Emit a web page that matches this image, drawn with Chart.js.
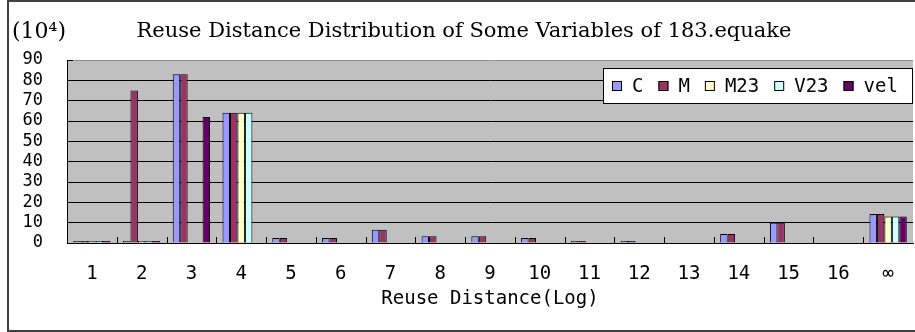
<!DOCTYPE html>
<html>
<head>
<meta charset="utf-8">
<script src="https://cdn.jsdelivr.net/npm/chart.js@4.4.0/dist/chart.umd.min.js"></script>
<style>
  html, body { margin: 0; padding: 0; background: #fff; }
</style>
</head>
<body>
<canvas id="graficoReuse" width="915" height="332"></canvas>
<script>
const categories = ['1', '2', '3', '4', '5', '6', '7', '8', '9', '10', '11', '12', '13', '14', '15', '16', '∞'];

const seriesC   = [1, 1, 83, 64, 2.5, 2.5, 6.5, 3.3, 3.3, 2.5, 1, 1, 0, 4.4, 10, 0, 14.3];
const seriesM   = [1, 75, 83, 64, 2.5, 2.5, 6.5, 3.3, 3.3, 2.5, 1, 1, 0, 4.4, 10, 0, 14.3];
const seriesM23 = [1, 1, 0, 64, 0, 0, 0, 0, 0, 0, 0, 0, 0, 0, 0, 0, 13];
const seriesV23 = [1, 1, 0, 64, 0, 0, 0, 0, 0, 0, 0, 0, 0, 0, 0, 0, 13];
const seriesVel = [1, 1, 62, 0, 0, 0, 0, 0, 0, 0, 0, 0, 0, 0, 0, 0, 13];

const seriesNames = ['C', 'M', 'M23', 'V23', 'vel'];
const seriesColors = ['#9999ff', '#993366', '#ffffcc', '#ccffff', '#660066'];

const yTicks = [0, 10, 20, 30, 40, 50, 60, 70, 80, 90];

const monoFont = '"DejaVu Sans Mono", monospace';
const serifFont = '"DejaVu Serif", serif';

// white page, grey plot, outer frame and the (10^4) unit
const framePlugin = {
    id: 'frame',
    beforeDraw(chart) {
        const c = chart.ctx;
        const a = chart.chartArea;
        c.save();
        c.fillStyle = '#ffffff';
        c.fillRect(0, 0, chart.width, chart.height);
        c.fillStyle = '#c0c0c0';
        c.fillRect(a.left, a.top, a.right - a.left, a.bottom - a.top);
        c.restore();
    },
    afterDraw(chart) {
        const c = chart.ctx;
        const a = chart.chartArea;
        c.save();
        c.strokeStyle = '#404040';
        c.lineWidth = 2;
        c.strokeRect(8, 1, 920, 330);
        // little corner tick at the top of the value axis
        c.strokeStyle = '#000';
        c.lineWidth = 1;
        c.beginPath();
        c.moveTo(a.left, a.top + 0.5);
        c.lineTo(a.left + 6, a.top + 0.5);
        c.stroke();
        c.fillStyle = '#000';
        c.font = '22px ' + serifFont;
        c.textBaseline = 'alphabetic';
        c.fillText('(10⁴)', 12, 38);
        c.restore();
    }
};

// short inward marks at the category boundaries
const boundaryTicks = {
    id: 'boundaryTicks',
    beforeDatasetsDraw(chart) {
        const x = chart.scales.x;
        const a = chart.chartArea;
        const step = (x.right - x.left) / categories.length;
        const c = chart.ctx;
        c.save();
        c.strokeStyle = '#000';
        c.lineWidth = 1;
        c.beginPath();
        for (let i = 1; i < categories.length; i++) {
            const px = Math.round(x.left + i * step) + 0.5;
            c.moveTo(px, a.bottom);
            c.lineTo(px, a.bottom - 6);
        }
        c.stroke();
        c.restore();
    }
};

// boxed legend inside the plot, top right
const boxLegend = {
    id: 'boxLegend',
    afterDatasetsDraw(chart) {
        const c = chart.ctx;
        const box = { left: 603, top: 68, right: 913, bottom: 104 };
        const midY = (box.top + box.bottom) / 2;
        c.save();
        c.fillStyle = '#ffffff';
        c.fillRect(box.left, box.top, box.right - box.left, box.bottom - box.top);
        c.strokeStyle = '#000';
        c.lineWidth = 1;
        c.strokeRect(box.left + 0.5, box.top + 0.5, box.right - box.left - 1, box.bottom - box.top - 1);
        c.font = '19px ' + monoFont;
        c.textBaseline = 'middle';
        let px = box.left + 9;
        chart.data.datasets.forEach((ds) => {
            c.fillStyle = ds.backgroundColor;
            c.fillRect(px, midY - 5, 10, 10);
            c.strokeRect(px + 0.5, midY - 4.5, 9, 9);
            c.fillStyle = '#000';
            c.fillText(ds.label, px + 20, midY + 1);
            px += 20 + c.measureText(ds.label).width + 15;
        });
        c.restore();
    }
};

const allSeries = [seriesC, seriesM, seriesM23, seriesV23, seriesVel];

new Chart(document.getElementById('graficoReuse'), {
    type: 'bar',
    data: {
        labels: categories,
        datasets: allSeries.map((values, i) => ({
            label: seriesNames[i],
            data: values,
            backgroundColor: seriesColors[i],
            borderColor: '#000000',
            borderWidth: 1,
            categoryPercentage: 0.75,
            barPercentage: 1
        }))
    },
    options: {
        responsive: false,
        animation: false,
        layout: {
            padding: { left: 15, right: 2, top: 0, bottom: 0 }
        },
        plugins: {
            legend: { display: false },
            tooltip: { enabled: false },
            title: {
                display: true,
                text: 'Reuse Distance Distribution of Some Variables of 183.equake',
                color: '#000',
                font: { family: serifFont, size: 21, weight: 'normal', lineHeight: 1.2 },
                padding: { top: 19.4, bottom: 15.4 }
            }
        },
        scales: {
            x: {
                grid: { display: false, drawTicks: false },
                border: { display: true, color: '#000', width: 1 },
                ticks: {
                    color: '#000',
                    font: { family: monoFont, size: 19, lineHeight: 1.2 },
                    padding: 20,
                    maxRotation: 0,
                    autoSkip: false
                },
                title: {
                    display: true,
                    text: 'Reuse Distance(Log)',
                    color: '#000',
                    font: { family: monoFont, size: 19, lineHeight: 1.2 },
                    padding: { top: 0, bottom: 22 }
                },
                afterFit(scale) { scale.height = 89; }
            },
            y: {
                min: 0,
                max: 90,
                afterBuildTicks(scale) { scale.ticks = yTicks.map(v => ({ value: v })); },
                grid: {
                    drawTicks: false,
                    color: (ctx) => (ctx.tick && ctx.tick.value === 90 ? '#909090' : '#000000'),
                    lineWidth: 1
                },
                border: { display: true, color: '#000', width: 1 },
                ticks: {
                    color: '#000',
                    font: { family: monoFont, size: 17 },
                    padding: 24,
                    autoSkip: false
                },
                afterFit(scale) { scale.width = 52; }
            }
        }
    },
    plugins: [framePlugin, boundaryTicks, boxLegend]
});
</script>
</body>
</html>
